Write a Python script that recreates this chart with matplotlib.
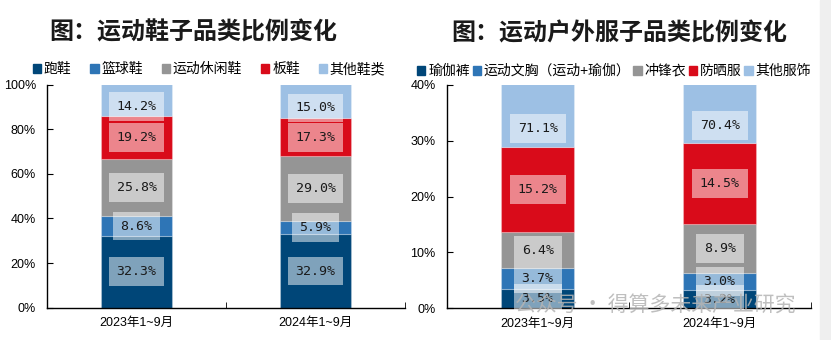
import matplotlib
matplotlib.use("Agg")
import matplotlib.pyplot as plt
from matplotlib.patches import Patch
import numpy as np

plt.rcParams['font.family'] = ['Liberation Sans', 'Noto Sans CJK SC', 'DejaVu Sans']

periods = ["2023年1~9月", "2024年1~9月"]

shoe_names = ["跑鞋", "篮球鞋", "运动休闲鞋", "板鞋", "其他鞋类"]
shoe_2023 = [32.3, 8.6, 25.8, 19.2, 14.2]
shoe_2024 = [32.9, 5.9, 29.0, 17.3, 15.0]

wear_names = ["瑜伽裤", "运动文胸（运动+瑜伽）", "冲锋衣", "防晒服", "其他服饰"]
wear_2023 = [3.5, 3.7, 6.4, 15.2, 71.1]
wear_2024 = [3.2, 3.0, 8.9, 14.5, 70.4]

colors = ["#004678", "#2e75b6", "#959595", "#d90b1a", "#9dc0e4"]

fig = plt.figure(figsize=(8.31, 3.40), dpi=100)
fig.patches.append(plt.Rectangle((820 / 831, 0), 11 / 831, 1, transform=fig.transFigure,
                                 color="#efefef", zorder=0))


def stacked(ax, series, ymax, step):
    x = np.arange(len(periods))
    for i, vals in enumerate(series):
        bottom = 0
        for k, v in enumerate(vals):
            ax.bar(x[i], v, 0.4, bottom=bottom, color=colors[k],
                   edgecolor="#ffffff40", linewidth=0.8, zorder=2)
            top = bottom + v
            if top > ymax:
                ymid = bottom + (ymax - bottom) * 0.3
            else:
                ymid = bottom + v / 2
            ax.text(x[i], ymid, "%.1f%%" % v, ha="center", va="center",
                    fontsize=9.5, family="DejaVu Sans Mono", color="#1a1a1a", zorder=3,
                    bbox=dict(boxstyle="square,pad=0.6", fc="white", ec="none", alpha=0.5))
            bottom = top
    ax.set_xlim(-0.5, 1.5)
    ax.set_ylim(0, ymax)
    ax.set_yticks(np.arange(0, ymax + 0.1, step))
    ax.set_yticklabels(["%d%%" % t for t in np.arange(0, ymax + 0.1, step)])
    ax.set_xticks(x)
    ax.set_xticklabels(periods)
    ax.set_xticks([0.5, 1.5], minor=True)
    ax.tick_params(axis="x", which="major", length=0, labelsize=9, pad=7)
    ax.tick_params(axis="x", which="minor", direction="in", length=4)
    ax.tick_params(axis="y", direction="in", length=4, labelsize=9, pad=8)
    for s in ["top", "right"]:
        ax.spines[s].set_visible(False)
    for s in ["left", "bottom"]:
        ax.spines[s].set_linewidth(1)


ax1 = fig.add_axes([0.0566, 0.095, 0.4308, 0.656])
stacked(ax1, [shoe_2023, shoe_2024], 100, 20)
ax2 = fig.add_axes([0.5375, 0.094, 0.438, 0.656])
stacked(ax2, [wear_2023, wear_2024], 40, 10)

fig.text(193 / 831, 1 - 33 / 340, "图：运动鞋子品类比例变化", ha="center", va="center",
         fontsize=17.3, fontweight="bold", color="#1a1a1a")
fig.text(619 / 831, 1 - 34 / 340, "图：运动户外服子品类比例变化", ha="center", va="center",
         fontsize=17.3, fontweight="bold", color="#1a1a1a")

h1 = [Patch(color=c) for c in colors]
fig.legend(h1, shoe_names, loc="center", bbox_to_anchor=(209 / 831, 1 - 69 / 340), ncol=5,
           frameon=False, fontsize=10, handlelength=0.6, handleheight=0.6,
           handletextpad=0.2, columnspacing=1.35, borderpad=0)
fig.legend(h1, wear_names, loc="center", bbox_to_anchor=(614 / 831, 1 - 71 / 340), ncol=5,
           frameon=False, fontsize=10, handlelength=0.6, handleheight=0.6,
           handletextpad=0.2, columnspacing=0.2, borderpad=0)

fig.text(655 / 831, 1 - 305 / 340, "公众号 · 得算多未来产业研究", ha="center", va="center",
         fontsize=15, color="#b4b4b4", alpha=0.85, zorder=10, family=["Noto Sans CJK SC"])

fig.savefig("out.png", dpi=100)
